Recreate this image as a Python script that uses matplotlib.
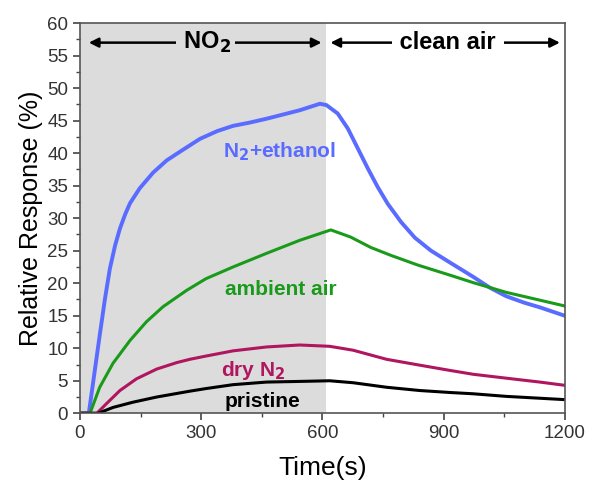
import matplotlib
matplotlib.use('Agg')
import matplotlib.pyplot as plt
from matplotlib.ticker import MultipleLocator

plt.rcParams['font.family'] = ['Liberation Sans', 'DejaVu Sans']

# N2 + ethanol
t_eth = [0, 22, 49, 62, 74, 87, 99, 112, 124, 148, 181, 215, 247, 272, 297, 340, 379, 420, 462, 500,
         544, 594, 610, 638, 663, 688, 713, 737, 762, 795, 829, 869, 918, 973, 1015, 1055,
         1100, 1138, 1200]
y_eth = [0, 0, 12, 17.6, 22.2, 25.8, 28.4, 30.6, 32.3, 34.6, 37.0, 38.9, 40.2, 41.2, 42.2, 43.4, 44.2, 44.7, 45.3, 45.9,
         46.6, 47.6, 47.4, 46.1, 43.8, 40.7, 37.6, 34.8, 32.2, 29.4, 27.0, 25.0, 23.1, 21, 19.3, 18,
         17.0, 16.3, 15.0]

# ambient air
t_amb = [0, 25, 49, 82, 124, 165, 206, 264, 312, 379, 462, 544, 621, 670, 720, 769, 836, 918,
         973, 1055, 1138, 1200]
y_amb = [0, 0, 4.0, 7.7, 11.2, 14.1, 16.4, 18.9, 20.7, 22.5, 24.6, 26.6, 28.2, 27.1, 25.5, 24.3, 22.8, 21.2,
         20.1, 18.6, 17.4, 16.5]

# dry N2
t_dry = [0, 42, 66, 99, 140, 190, 240, 272, 312, 379, 462, 544, 618, 676, 759, 841, 915, 973, 1055, 1138, 1200]
y_dry = [0, 0, 1.5, 3.5, 5.3, 6.8, 7.8, 8.3, 8.8, 9.6, 10.2, 10.5, 10.3, 9.7, 8.3, 7.4, 6.6, 6.0, 5.4, 4.8, 4.3]

# pristine
t_pri = [0, 45, 82, 131, 190, 272, 312, 379, 462, 544, 618, 676, 759, 841, 915, 973, 1055, 1200]
y_pri = [0, 0, 0.9, 1.7, 2.5, 3.4, 3.8, 4.4, 4.8, 4.9, 5.0, 4.7, 4.0, 3.5, 3.2, 3.0, 2.6, 2.1]

fig = plt.figure(figsize=(5.92, 4.92), dpi=100)
ax = fig.add_axes([0.135, 0.16, 0.819, 0.793])

ax.axvspan(0, 610, color='#dcdcdc', lw=0, zorder=0)

ax.plot(t_eth, y_eth, color='#5a6cff', lw=2.8, solid_joinstyle='round')
ax.plot(t_amb, y_amb, color='#1a9a1a', lw=2.2, solid_joinstyle='round')
ax.plot(t_dry, y_dry, color='#b0155f', lw=2.2, solid_joinstyle='round')
ax.plot(t_pri, y_pri, color='black', lw=2.2, solid_joinstyle='round')

ax.text(495, 40.2, 'N$_\\mathbf{2}$+ethanol', color='#5a6cff', fontsize=15, fontweight='bold', ha='center', va='center')
ax.text(497, 19, 'ambient air', color='#1a9a1a', fontsize=15, fontweight='bold', ha='center', va='center')
ax.text(430, 6.6, 'dry N$_\\mathbf{2}$', color='#b0155f', fontsize=15, fontweight='bold', ha='center', va='center')
ax.text(452, 1.8, 'pristine', color='black', fontsize=15, fontweight='bold', ha='center', va='center')

# region arrows
arr = dict(arrowstyle='<|-|>', color='black', lw=1.8, mutation_scale=14, shrinkA=0, shrinkB=0)
ax.annotate('', xy=(22, 57), xytext=(598, 57), arrowprops=arr)
ax.annotate('', xy=(620, 57), xytext=(1188, 57), arrowprops=arr)
ax.text(310, 57, ' NO$_\\mathbf{2}$ ', fontsize=17, fontweight='bold', ha='center', va='center',
        bbox=dict(facecolor='#dcdcdc', edgecolor='none', pad=1))
ax.text(910, 57, ' clean air ', fontsize=17, fontweight='bold', ha='center', va='center',
        bbox=dict(facecolor='white', edgecolor='none', pad=1))

ax.set_xlim(0, 1200)
ax.set_ylim(0, 60)
ax.xaxis.set_major_locator(MultipleLocator(300))
ax.xaxis.set_minor_locator(MultipleLocator(150))
ax.yaxis.set_major_locator(MultipleLocator(5))
ax.yaxis.set_minor_locator(MultipleLocator(2.5))
ax.tick_params(which='both', direction='out', top=False, right=False, colors='#444', labelsize=13.5, labelcolor='#333')
ax.tick_params(which='major', length=5, width=1.2)
ax.tick_params(which='minor', length=3, width=1)
for s in ax.spines.values():
    s.set_color('#555')
    s.set_linewidth(1.2)

ax.set_xlabel('Time(s)', fontsize=19, labelpad=10)
ax.set_ylabel('Relative Response (%)', fontsize=18, labelpad=3)

fig.savefig('out.png', dpi=100)
